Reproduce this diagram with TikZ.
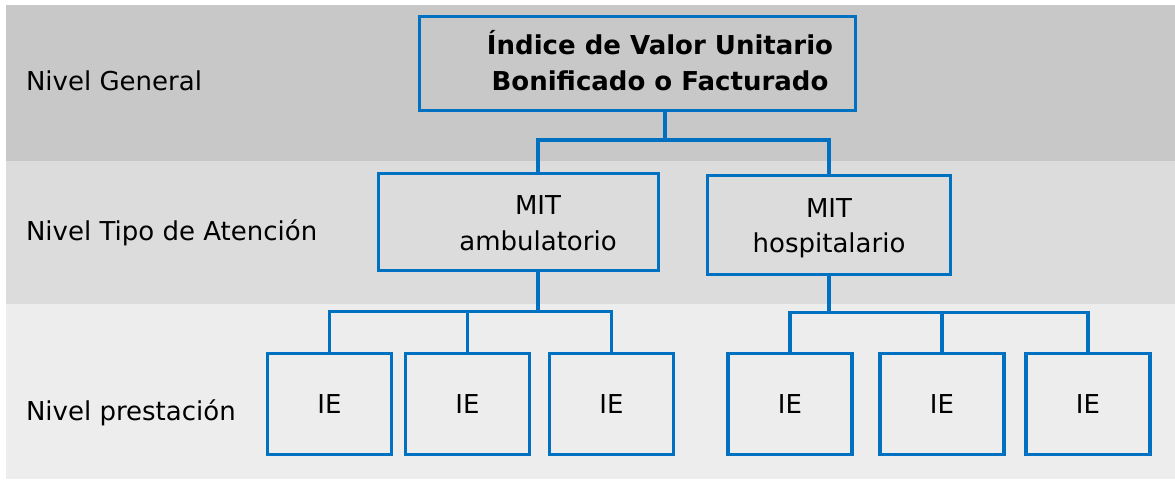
\documentclass[tikz,border=0pt]{standalone}
\usepackage{fontspec}
\setmainfont{DejaVu Sans}
\usetikzlibrary{positioning}
\definecolor{bandtop}{HTML}{C8C8C8}
\definecolor{bandmid}{HTML}{DCDCDC}
\definecolor{bandlow}{HTML}{EDEDED}
\definecolor{lineblue}{HTML}{0070C0}

\begin{document}
\begin{tikzpicture}[
    x=1pt, y=-1pt,
    every node/.style={font=\fontsize{26}{35.5}\selectfont, align=center, inner sep=0pt, outer sep=0pt},
    box/.style={rectangle, draw=lineblue, line width=3.4pt},
    iebox/.style={box, minimum width=124pt, minimum height=101pt},
    link/.style={draw=lineblue, line width=3.4pt},
    level/.style={anchor=base west}
]
\useasboundingbox (0,0) rectangle (1175,480);

% Level bands
\fill[bandtop] (6,5) rectangle (1175,161);
\fill[bandmid] (6,161) rectangle (1175,304);
\fill[bandlow] (6,304) rectangle (1175,479);

% Level names
\node[level] (lgen) at (26,90) {Nivel General};
\node[level] (ltipo) at (26,240) {Nivel Tipo de Atención};
\node[level] (lprest) at (26,420) {Nivel prestación};

% General index
\node[box, minimum width=436pt, minimum height=94pt] (topbox) at (637.5,63.5) {};
\node[font=\fontsize{26}{36}\selectfont\bfseries] (title) at (660,61) {Índice de Valor Unitario\\Bonificado o Facturado};

% Type of attention
\node[box, minimum width=280pt, minimum height=97pt] (amb) at (518.5,222) {};
\node (ambtext) at (538,223) {MIT\\ambulatorio};
\node[box, minimum width=243pt, minimum height=99pt] (hosp) at (829,225) {};
\node (hosptext) at (829,228) {MIT\\hospitalario};

% Services
\node[iebox] (ie1) at (329.5,404) {IE};
\node[iebox] (ie2) at (467.5,404) {IE};
\node[iebox] (ie3) at (611.5,404) {IE};
\node[iebox] (ie4) at (790,404) {IE};
\node[iebox] (ie5) at (942,404) {IE};
\node[iebox] (ie6) at (1088,404) {IE};

% Connectors
\coordinate (hub) at (665,140);
\draw[link] (topbox.south -| hub) -- (hub) -| (ambtext |- amb.north);
\draw[link] (hub) -| (hosp.north);

\draw[link] (ambtext |- amb.south) -- ++(0,41) -| (ie1.north);
\draw[link] (ambtext |- amb.south) -- ++(0,41) -| (ie2.north);
\draw[link] (ambtext |- amb.south) -- ++(0,41) -| (ie3.north);

\draw[link] (hosp.south) -- ++(0,38) -| (ie4.north);
\draw[link] (hosp.south) -- ++(0,38) -| (ie5.north);
\draw[link] (hosp.south) -- ++(0,38) -| (ie6.north);

\end{tikzpicture}
\end{document}
